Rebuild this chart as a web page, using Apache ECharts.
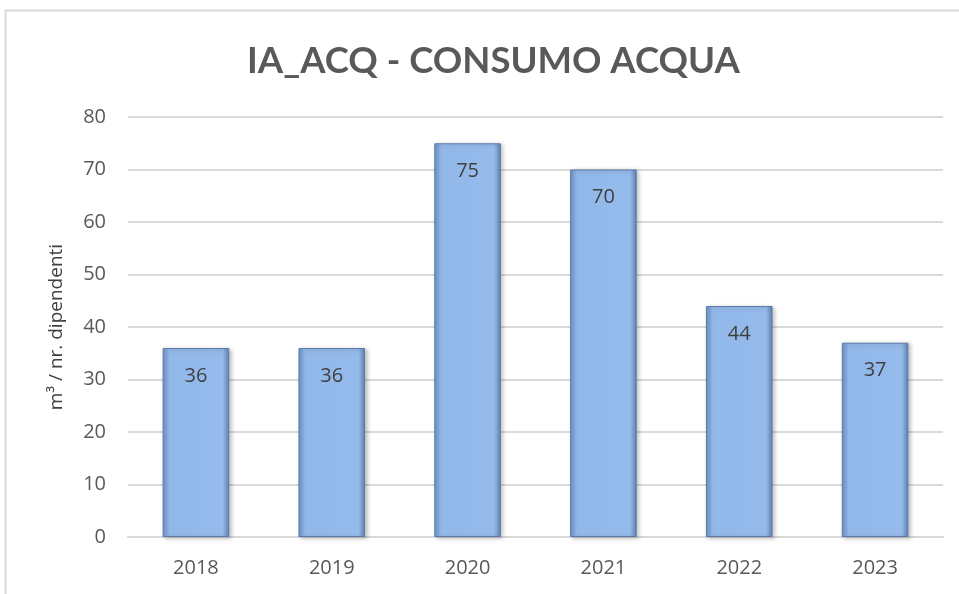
<!DOCTYPE html>
<html>
<head>
  <meta charset="utf-8">
  <title>IA_ACQ - CONSUMO ACQUA</title>
  <script src="https://cdn.jsdelivr.net/npm/echarts@6/dist/echarts.min.js"></script>
  <style>
    html, body { margin: 0; padding: 0; background: #fff; }
    #chart { width: 959px; height: 594px; }
  </style>
</head>
<body>
<div id="chart"></div>
<script>
  // dati
  var anni = ['2018', '2019', '2020', '2021', '2022', '2023'];
  var consumo = [36, 36, 75, 70, 44, 37];
  var yTicks = { min: 0, max: 80, step: 10 };

  var chart = echarts.init(document.getElementById('chart'));
  var barColor = new echarts.graphic.LinearGradient(0, 0, 1, 0, [
    { offset: 0, color: '#6f93c6' },
    { offset: 0.1, color: '#92b8ea' },
    { offset: 0.9, color: '#95bbec' },
    { offset: 1, color: '#5f80ad' }
  ]);

  chart.setOption({
    backgroundColor: '#fff',
    animation: false,
    title: {
      text: 'IA_ACQ - CONSUMO ACQUA',
      left: 242,
      top: 38,
      textStyle: { fontFamily: 'Lato', fontWeight: 'bold', fontSize: 36.5, color: '#595959' }
    },
    graphic: [{
      type: 'rect',
      shape: { x: 5.5, y: 10.5, width: 1000, height: 700 },
      style: { fill: 'none', stroke: '#d9d9d9', lineWidth: 2 },
      silent: true
    }],
    grid: { left: 128, right: 16, top: 117, bottom: 57, containLabel: false },
    xAxis: {
      type: 'category',
      data: anni,
      axisLine: { lineStyle: { color: '#d9d9d9', width: 2 } },
      axisTick: { show: false },
      axisLabel: { color: '#595959', fontSize: 20, fontFamily: 'Open Sans', margin: 21 }
    },
    yAxis: {
      type: 'value',
      min: yTicks.min,
      max: yTicks.max,
      interval: yTicks.step,
      name: 'm³ / nr. dipendenti',
      nameLocation: 'middle',
      nameGap: 62,
      nameTextStyle: { color: '#404040', fontSize: 19, fontFamily: 'Open Sans' },
      axisLine: { show: false },
      axisTick: { show: false },
      splitLine: { lineStyle: { color: '#d9d9d9', width: 2 } },
      axisLabel: { color: '#595959', fontSize: 20, fontFamily: 'Open Sans', margin: 22 }
    },
    series: [{
      type: 'bar',
      data: consumo,
      barWidth: '49%',
      itemStyle: {
        color: barColor,
        borderColor: '#5b7cab',
        borderWidth: 1,
        shadowColor: 'rgba(0,0,0,0.25)',
        shadowBlur: 4,
        shadowOffsetX: 2,
        shadowOffsetY: 1
      },
      label: {
        show: true,
        position: 'insideTop',
        distance: 18,
        color: '#404040',
        fontSize: 20,
        fontFamily: 'Open Sans'
      }
    }]
  });
</script>
</body>
</html>
